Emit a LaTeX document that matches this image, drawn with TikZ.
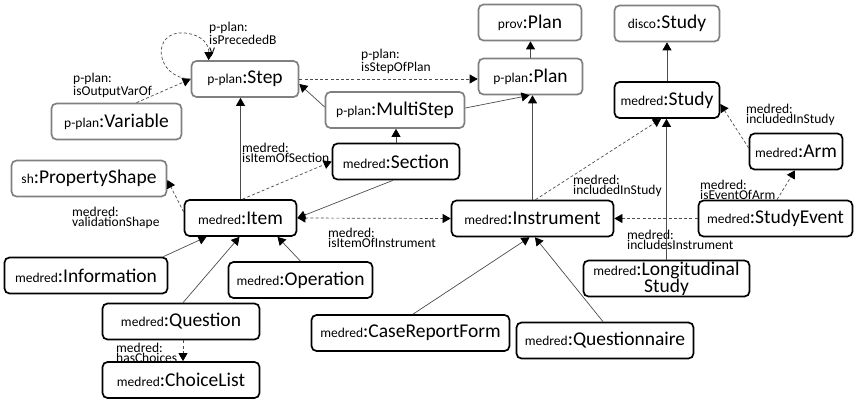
\documentclass[tikz,border=0pt]{standalone}
\usepackage{fontspec}
\setmainfont{Carlito}
\usetikzlibrary{arrows.meta,calc}
\newcommand{\cls}[2]{{\fontsize{13.5}{14}\selectfont #1}{\fontsize{19.5}{20}\selectfont :#2}}
\begin{document}
\begin{tikzpicture}[x=1pt,y=-1pt,
  box/.style={rounded corners=5pt, line width=1.7pt, minimum height=36pt, inner sep=0pt, fill=white, text=black},
  ob/.style={box, draw=black!50},
  mb/.style={box, draw=black},
  conn/.style={draw=black!70, line width=0.7pt, -{Triangle[length=8pt,width=9pt,color=black]}},
  dconn/.style={conn, dash pattern=on 3pt off 2.2pt},
  lbl/.style={anchor=north west, inner sep=0pt, align=left, font=\fontsize{13.5}{10.3}\selectfont}]
\useasboundingbox (0,0) rectangle (854,401);
% nodes
\node[ob, minimum width=103pt] (provPlan) at (530,22.5) {\cls{prov}{Plan}};
\node[ob, minimum width=104pt] (pplanPlan) at (530.5,76.5) {\cls{p-plan}{Plan}};
\node[ob, minimum width=105pt] (discoStudy) at (667,23.5) {\cls{disco}{Study}};
\node[mb, minimum width=105pt] (medStudy) at (667,100) {\cls{medred}{Study}};
\node[ob, minimum width=107pt] (step) at (245,79) {\cls{p-plan}{Step}};
\node[ob, minimum width=130pt] (variable) at (116.5,121.5) {\cls{p-plan}{Variable}};
\node[ob, minimum width=139pt] (multistep) at (395,110) {\cls{p-plan}{MultiStep}};
\node[mb, minimum width=127pt] (section) at (396,161.5) {\cls{medred}{Section}};
\node[ob, minimum width=155pt] (propshape) at (89,178.5) {\cls{sh}{PropertyShape}};
\node[mb, minimum width=112pt] (item) at (240.5,218) {\cls{medred}{Item}};
\node[mb, minimum width=162pt] (instrument) at (532.5,218.5) {\cls{medred}{Instrument}};
\node[mb, minimum width=93pt] (arm) at (796,151.5) {\cls{medred}{Arm}};
\node[mb, minimum width=154pt] (studyevent) at (775.5,218.5) {\cls{medred}{StudyEvent}};
\node[mb, minimum width=166pt, align=center, font=\fontsize{19.5}{17}\selectfont] (longstudy) at (666.5,278.5) {\cls{medred}{Longitudinal}\\Study};
\node[mb, minimum width=177pt] (questionnaire) at (605,340.5) {\cls{medred}{Questionnaire}};
\node[mb, minimum width=198pt] (crf) at (410.5,333) {\cls{medred}{CaseReportForm}};
\node[mb, minimum width=144pt] (operation) at (300.5,280) {\cls{medred}{Operation}};
\node[mb, minimum width=163pt] (information) at (86,275.5) {\cls{medred}{Information}};
\node[mb, minimum width=157pt] (question) at (181,321.5) {\cls{medred}{Question}};
\node[mb, minimum width=157pt] (choicelist) at (181,380) {\cls{medred}{ChoiceList}};
% labels
\node[lbl] (lPrec) at (209,22) {p-plan:\\isPrecededB\\y};
\node[lbl] (lOut) at (73,73) {p-plan:\\isOutputVarOf};
\node[lbl] (lStepOf) at (361,49) {p-plan:\\isStepOfPlan};
\node[lbl] (lSec) at (242,143) {medred:\\isItemOfSection};
\node[lbl] (lVal) at (72,207) {medred:\\validationShape};
\node[lbl] (lItemInst) at (328,228) {medred:\\isItemOfInstrument};
\node[lbl] (lInclA) at (573,175) {medred:\\includedInStudy};
\node[lbl] (lInclB) at (746,104) {medred:\\includedInStudy};
\node[lbl] (lEvArm) at (700,180) {medred:\\isEventOfArm};
\node[lbl] (lInclInst) at (627,230) {medred:\\includesInstrument};
\node[lbl] (lChoices) at (116,343) {medred:\\hasChoices};
% connectors
\draw[conn] (medStudy.north) -- (discoStudy.south);
\draw[conn] (pplanPlan.north) -- (pplanPlan.north |- provPlan.south);
\draw[dconn] (step.east) -- (step.east -| pplanPlan.west);
\draw[conn] ($(multistep.west)+(0,-3)$) -- ($(step.east)+(0,5)$);
\draw[conn] ($(multistep.east)+(0,-2)$) -- ($(pplanPlan.south)+(-1,0)$);
\draw[conn] (section.north) -- (section.north |- multistep.south);
\draw[conn] (item.north) -- (item.north |- step.south);
\draw[dconn] ($(item.north)+(2,0)$) -- (section.west);
\draw[conn] ($(section.south)+(-3,0)$) -- (item.east);
\draw[dconn, {Triangle[length=8pt,width=9pt,color=black]}-{Triangle[length=8pt,width=9pt,color=black]}] (item.east) -- (instrument.west);
\draw[conn] (instrument.north) -- (instrument.north |- pplanPlan.south);
\draw[dconn] ($(instrument.north)+(3,0)$) -- ($(medStudy.south)+(-6,0)$);
\draw[conn] (longstudy.north) -- (longstudy.north |- medStudy.south);
\draw[dconn] ($(arm.west)+(0,-3.5)$) -- ($(medStudy.east)+(0,4)$);
\draw[dconn] ($(studyevent.north)+(1.5,0)$) -- ($(arm.south)+(-1,0)$);
\draw[dconn] (studyevent.west) -- (instrument.east);
\draw[dconn] ($(item.west)+(0,-6)$) -- ($(propshape.east)+(0,1.5)$);
\draw[dconn] ($(variable.north)+(20,0)$) -- (step.west);
\draw[dconn] (step.west) .. controls (155,78) and (150,30) .. (185,33) .. controls (203,35) and (209,45) .. ($(step.north west)+(18,0)$);
\draw[conn] ($(information.north east)+(-5,0)$) -- ($(item.south)+(-34,0)$);
\draw[conn] ($(question.north)+(2,0)$) -- ($(item.south)+(-1,0)$);
\draw[conn] (operation.north) -- ($(item.south)+(37,0)$);
\draw[dconn] ($(question.south)+(2,0)$) -- ($(choicelist.north)+(2,0)$);
\draw[conn] ($(crf.north)+(2.5,0)$) -- ($(instrument.south)+(-3,0)$);
\draw[conn] ($(questionnaire.north)+(-2,0)$) -- ($(instrument.south)+(2.5,0)$);
\end{tikzpicture}
\end{document}
